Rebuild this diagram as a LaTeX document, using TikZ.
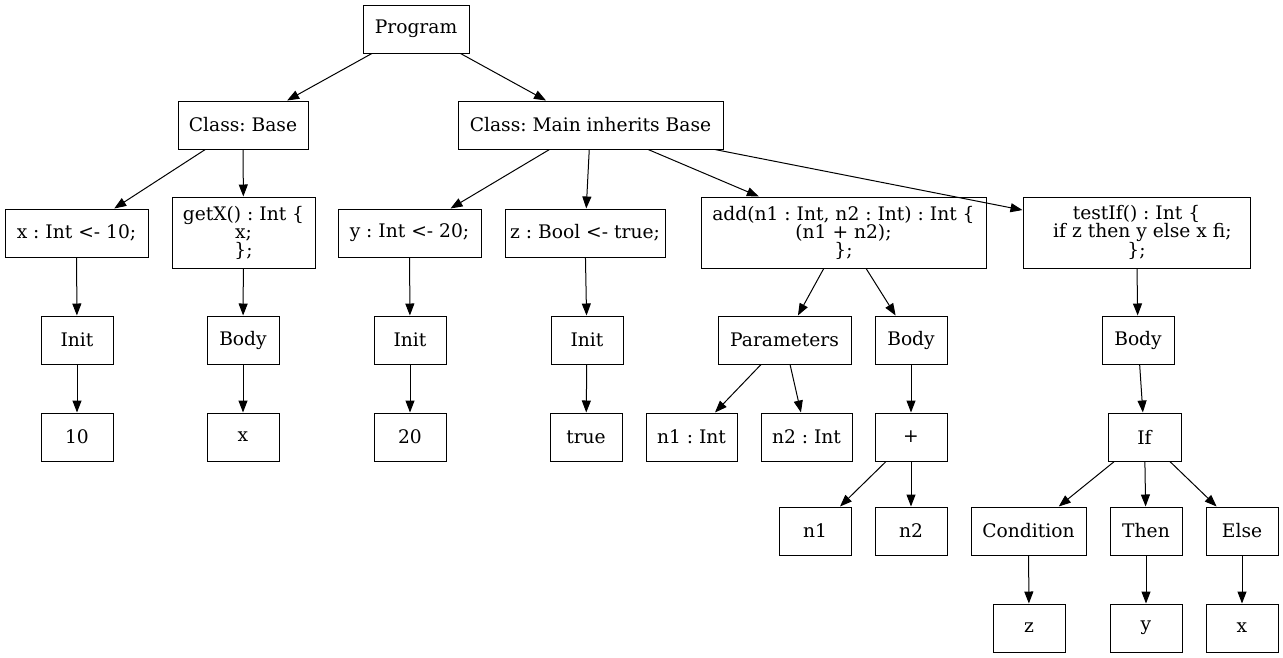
\documentclass[tikz,border=0pt]{standalone}
\usepackage{fontspec}
\setmainfont{DejaVu Serif}
\usetikzlibrary{arrows.meta}
\begin{document}
\frenchspacing
\begin{tikzpicture}[x=1pt,y=-1pt,
  box/.style={draw,line width=1pt,inner sep=0pt,minimum height=48pt,minimum width=72pt,align=center,
    font=\fontsize{18.67}{18}\selectfont\frenchspacing},
  tall/.style={box,minimum height=71pt},
  edge/.style={line width=1pt,-{Triangle[length=12pt,width=9pt]}}]
\useasboundingbox (0,0) rectangle (1283,657);
% row 1
\node[box,minimum width=106pt] (prog) at (416,29) {Program};
% row 2
\node[box,minimum width=130pt] (cbase) at (243,125) {Class: Base};
\node[box,minimum width=265pt] (cmain) at (590.5,125) {Class: Main inherits Base};
% row 3
\node[box,minimum width=143pt] (xdecl) at (76.5,233) {x : Int <- 10;};
\node[tall,minimum width=143pt] (getx) at (243.5,232.5) {getX() : Int \{\\x;\\\};};
\node[box,minimum width=143pt] (ydecl) at (409.5,233) {y : Int <- 20;};
\node[box,minimum width=160pt] (zdecl) at (585,233) {z : Bool <- true;};
\node[tall,minimum width=285pt] (add) at (843.5,232.5) {add(n1 : Int, n2 : Int) : Int \{\\(n1 + n2);\\\};};
\node[tall,minimum width=227pt] (testif) at (1136.5,232.5) {testIf() : Int \{\\\ \ if z then y else x fi;\\\};};
% row 4
\node[box] (init1) at (77,340) {Init};
\node[box] (body1) at (243,340) {Body};
\node[box] (init2) at (410,340) {Init};
\node[box] (init3) at (587,340) {Init};
\node[box,minimum width=133pt] (params) at (784.5,340) {Parameters};
\node[box] (body2) at (911,340) {Body};
\node[box] (body3) at (1138,340) {Body};
% row 5
\node[box] (ten) at (77,437) {10};
\node[box] (xval) at (243,437) {x};
\node[box] (twenty) at (410,437) {20};
\node[box] (truev) at (586,437) {true};
\node[box,minimum width=91pt] (n1int) at (691.5,437) {n1 : Int};
\node[box,minimum width=91pt] (n2int) at (806.5,437) {n2 : Int};
\node[box] (plus) at (911,437) {+};
\node[box,minimum width=73pt] (ifn) at (1144.5,437) {If};
% row 6
\node[box] (n1) at (815,531) {n1};
\node[box] (n2) at (911,531) {n2};
\node[box,minimum width=115pt] (cond) at (1028.5,531) {Condition};
\node[box] (thenn) at (1146,531) {Then};
\node[box] (elsen) at (1242,531) {Else};
% row 7
\node[box] (zv) at (1029,628) {z};
\node[box] (yv) at (1146,628) {y};
\node[box] (xv) at (1242,628) {x};
% edges
\draw[edge] (prog) -- (cbase);
\draw[edge] (prog) -- (cmain);
\draw[edge] (cbase) -- (xdecl);
\draw[edge] (cbase) -- (getx);
\draw[edge] (cmain) -- (ydecl);
\draw[edge] (cmain) -- (zdecl);
\draw[edge] (cmain) -- (add);
\draw[edge] (cmain) -- (testif);
\draw[edge] (xdecl) -- (init1);
\draw[edge] (init1) -- (ten);
\draw[edge] (getx) -- (body1);
\draw[edge] (body1) -- (xval);
\draw[edge] (ydecl) -- (init2);
\draw[edge] (init2) -- (twenty);
\draw[edge] (zdecl) -- (init3);
\draw[edge] (init3) -- (truev);
\draw[edge] (add) -- (params);
\draw[edge] (add) -- (body2);
\draw[edge] (params) -- (n1int);
\draw[edge] (params) -- (n2int);
\draw[edge] (body2) -- (plus);
\draw[edge] (plus) -- (n1);
\draw[edge] (plus) -- (n2);
\draw[edge] (testif) -- (body3);
\draw[edge] (body3) -- (ifn);
\draw[edge] (ifn) -- (cond);
\draw[edge] (ifn) -- (thenn);
\draw[edge] (ifn) -- (elsen);
\draw[edge] (cond) -- (zv);
\draw[edge] (thenn) -- (yv);
\draw[edge] (elsen) -- (xv);
\end{tikzpicture}
\end{document}
